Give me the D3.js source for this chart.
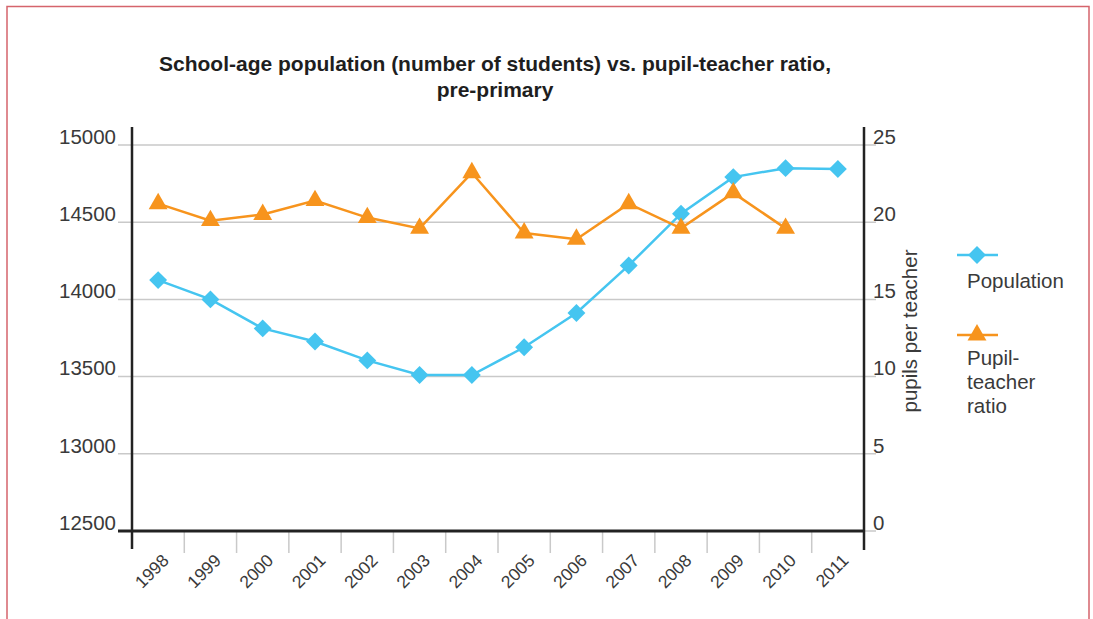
<!DOCTYPE html>
<html>
<head>
<meta charset="utf-8">
<script src="https://cdn.jsdelivr.net/npm/d3@7/dist/d3.min.js"></script>
<style>
  html, body { margin: 0; padding: 0; background: #fff; }
  svg { display: block; font-family: "Liberation Sans", Arial, sans-serif; }
</style>
</head>
<body>
<svg id="chart" width="1093" height="619"></svg>
<script>
// Chart data
const years = ["1998","1999","2000","2001","2002","2003","2004","2005","2006","2007","2008","2009","2010","2011"];
const population = [14125, 14000, 13812, 13727, 13605, 13510, 13510, 13690, 13912, 14220, 14555, 14792, 14850, 14845];
const pupilTeacher = [21.2, 20.1, 20.5, 21.4, 20.3, 19.6, 23.2, 19.3, 18.9, 21.2, 19.6, 21.9, 19.6, null];
const leftTicks = [12500, 13000, 13500, 14000, 14500, 15000];
const rightTicks = [0, 5, 10, 15, 20, 25];
const titleLines = ["School-age population (number of students) vs. pupil-teacher ratio,", "pre-primary"];
const seriesNames = ["Population", "Pupil-teacher ratio"];

const blue = "#45c5f0";
const orange = "#f7941d";
const textColor = "#3a3a3a";
const labelSize = 20.5;

const svg = d3.select("#chart");

// Frame
svg.append("path")
  .attr("d", "M7,619 V6.5 H1089 V619")
  .attr("fill", "none")
  .attr("stroke", "#d5646c")
  .attr("stroke-width", 1.5);

const plot = { left: 132, right: 864, top: 145, bottom: 531 };

const x = d3.scaleBand().domain(years).range([plot.left, plot.right]);
const yL = d3.scaleLinear().domain([12500, 15000]).range([plot.bottom, plot.top]);
const yR = d3.scaleLinear().domain([0, 25]).range([plot.bottom, plot.top]);

// Title
svg.append("text")
  .attr("x", 495).attr("y", 71)
  .attr("text-anchor", "middle")
  .attr("font-size", 21).attr("font-weight", "bold").attr("fill", "#1e1e1e")
  .selectAll("tspan").data(titleLines).join("tspan")
  .attr("x", 495).attr("dy", (d, i) => i === 0 ? 0 : 26)
  .text(d => d);

// Horizontal gridlines
svg.append("g").selectAll("line").data(leftTicks.slice(1)).join("line")
  .attr("x1", 118).attr("x2", 876)
  .attr("y1", d => yL(d)).attr("y2", d => yL(d))
  .attr("stroke", "#c9c9c9").attr("stroke-width", 1.5);

// Left axis labels
const leftAxis = d3.axisLeft(yL).tickValues(leftTicks).tickSize(0).tickPadding(16).tickFormat(d3.format("d"));
const gL = svg.append("g").attr("transform", `translate(${plot.left},0)`).call(leftAxis);
gL.select(".domain").remove();
gL.selectAll("text").attr("font-size", labelSize).attr("fill", textColor)
  .attr("font-family", "Liberation Sans, Arial, sans-serif").attr("dy", "-0.08em");

// Right axis labels
const rightAxis = d3.axisRight(yR).tickValues(rightTicks).tickSize(0).tickPadding(9);
const gR = svg.append("g").attr("transform", `translate(${plot.right},0)`).call(rightAxis);
gR.select(".domain").remove();
gR.selectAll("text").attr("font-size", labelSize).attr("fill", textColor)
  .attr("font-family", "Liberation Sans, Arial, sans-serif").attr("dy", "-0.08em");

// Category separators below the baseline
const bounds = years.slice(1).map(y => x(y));
svg.append("g").selectAll("line").data(bounds).join("line")
  .attr("x1", d => d).attr("x2", d => d)
  .attr("y1", plot.bottom).attr("y2", 553)
  .attr("stroke", "#c9c9c9").attr("stroke-width", 1.5);

// Baseline and vertical axes
svg.append("line").attr("x1", 118).attr("x2", plot.right).attr("y1", plot.bottom).attr("y2", plot.bottom)
  .attr("stroke", "#222").attr("stroke-width", 3);
svg.append("line").attr("x1", plot.right).attr("x2", 876).attr("y1", plot.bottom).attr("y2", plot.bottom)
  .attr("stroke", "#c9c9c9").attr("stroke-width", 1.5);
svg.append("line").attr("x1", plot.left).attr("x2", plot.left).attr("y1", 127).attr("y2", 549)
  .attr("stroke", "#222").attr("stroke-width", 2.5);
svg.append("line").attr("x1", plot.right).attr("x2", plot.right).attr("y1", 127).attr("y2", 550)
  .attr("stroke", "#222").attr("stroke-width", 2.5);

// X labels
svg.append("g").selectAll("text").data(years).join("text")
  .attr("transform", d => `translate(${x(d) + x.bandwidth() / 2 + 3},${plot.bottom + 22}) rotate(-45)`)
  .attr("text-anchor", "end")
  .attr("dy", "0.7em")
  .attr("font-size", 17.5).attr("fill", textColor)
  .text(d => d);

// Right axis title
svg.append("text")
  .attr("transform", "translate(917,331) rotate(-90)")
  .attr("text-anchor", "middle")
  .attr("font-size", labelSize).attr("fill", textColor)
  .text("pupils per teacher");

const cx = d => x(d) + x.bandwidth() / 2;
const diamond = d3.symbol().type(d3.symbolSquare).size(160);
const triangle = d3.symbol().type(d3.symbolTriangle).size(155);

// Population line
const popData = years.map((y, i) => ({ y, v: population[i] }));
svg.append("path").datum(popData)
  .attr("d", d3.line().x(d => cx(d.y)).y(d => yL(d.v)))
  .attr("fill", "none").attr("stroke", blue).attr("stroke-width", 2.5);
svg.append("g").selectAll("path").data(popData).join("path")
  .attr("d", diamond)
  .attr("transform", d => `translate(${cx(d.y)},${yL(d.v)}) rotate(45)`)
  .attr("fill", blue);

// Pupil-teacher ratio line
const ptData = years.map((y, i) => ({ y, v: pupilTeacher[i] })).filter(d => d.v != null);
svg.append("path").datum(ptData)
  .attr("d", d3.line().x(d => cx(d.y)).y(d => yR(d.v)))
  .attr("fill", "none").attr("stroke", orange).attr("stroke-width", 2.5);
svg.append("g").selectAll("path").data(ptData).join("path")
  .attr("d", triangle)
  .attr("transform", d => `translate(${cx(d.y)},${yR(d.v)})`)
  .attr("fill", orange);

// Legend
const legend = svg.append("g");
legend.append("line").attr("x1", 957).attr("x2", 998).attr("y1", 255).attr("y2", 255)
  .attr("stroke", blue).attr("stroke-width", 2.5);
legend.append("path").attr("d", diamond).attr("transform", "translate(977,255) rotate(45)").attr("fill", blue);
legend.append("text").attr("x", 967).attr("y", 288).attr("font-size", labelSize).attr("fill", textColor).text(seriesNames[0]);

legend.append("line").attr("x1", 957).attr("x2", 998).attr("y1", 335).attr("y2", 335)
  .attr("stroke", orange).attr("stroke-width", 2.5);
legend.append("path").attr("d", triangle).attr("transform", "translate(977,335)").attr("fill", orange);
legend.append("text").attr("x", 967).attr("y", 365).attr("font-size", labelSize).attr("fill", textColor)
  .selectAll("tspan").data(["Pupil-", "teacher", "ratio"]).join("tspan")
  .attr("x", 967).attr("dy", (d, i) => i === 0 ? 0 : 24).text(d => d);
</script>
</body>
</html>
